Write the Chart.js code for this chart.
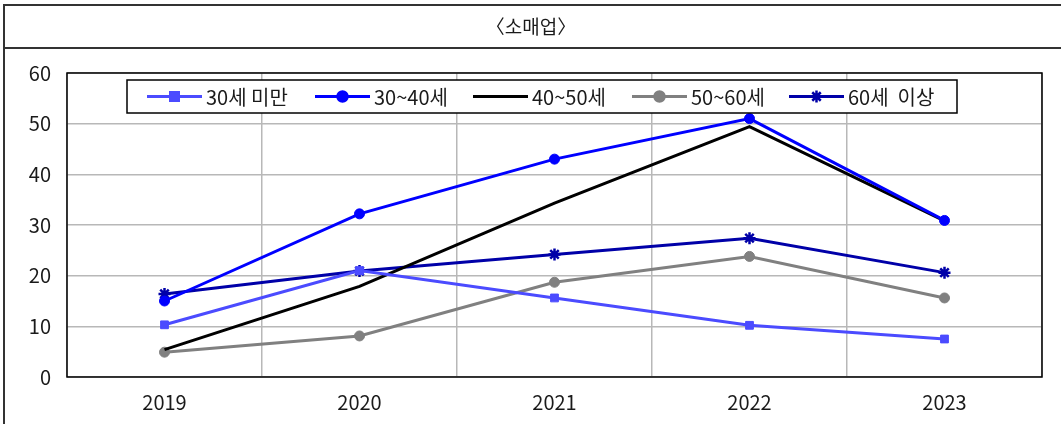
<!DOCTYPE html>
<html lang="ko">
<head>
<meta charset="utf-8">
<script src="https://cdn.jsdelivr.net/npm/chart.js@4/dist/chart.umd.min.js"></script>
<style>
    html, body { margin: 0; padding: 0; background: #ffffff; }
    #wrap { width: 1061px; height: 424px; position: relative; }
</style>
</head>
<body>
<div id="wrap"><canvas id="chart" width="1061" height="424"></canvas></div>
<script>
// Données
const titre = '〈소매업〉';
const annees = ['2019', '2020', '2021', '2022', '2023'];
const series = ['30세 미만', '30~40세', '40~50세', '50~60세', '60세  이상'];
const moins30 = [10.3, 21.0, 15.6, 10.2, 7.5];
const de30a40 = [15.0, 32.2, 43.0, 51.0, 30.9];
const de40a50 = [5.4, 17.9, 34.3, 49.4, 30.8];
const de50a60 = [4.9, 8.1, 18.7, 23.8, 15.6];
const plus60 = [16.4, 20.9, 24.2, 27.4, 20.6];
const yTicks = [0, 10, 20, 30, 40, 50, 60];

const FONT = '"Noto Sans CJK KR", "Noto Sans", sans-serif';

const styles = [
    { color: '#4b4bff', point: 'rect', radius: 5.5, data: moins30 },
    { color: '#0000ff', point: 'circle', radius: 5, data: de30a40 },
    { color: '#000000', point: false, radius: 0, data: de40a50 },
    { color: '#808080', point: 'circle', radius: 5, data: de50a60 },
    { color: '#0000a8', point: 'star', radius: 6, data: plus60 }
];

// Cadre, titre, bordure du graphique et légende maison
const decorPlugin = {
    id: 'decor',
    afterDraw(chart) {
        const ctx = chart.ctx;
        const a = chart.chartArea;
        ctx.save();

        // cadre extérieur
        ctx.strokeStyle = '#333333';
        ctx.lineWidth = 2;
        ctx.beginPath();
        ctx.moveTo(4, 424); ctx.lineTo(4, 5); ctx.lineTo(1061, 5);
        ctx.moveTo(4, 48); ctx.lineTo(1061, 48);
        ctx.stroke();

        // titre
        ctx.fillStyle = '#1a1a1a';
        ctx.font = '19px ' + FONT;
        ctx.textAlign = 'center';
        ctx.textBaseline = 'middle';
        ctx.fillText(titre, 531, 27);

        // bordure zone de tracé
        ctx.strokeStyle = '#000000';
        ctx.lineWidth = 1.5;
        ctx.strokeRect(a.left, a.top, a.right - a.left, a.bottom - a.top);

        // légende
        const bx = 127, by = 80, bw = 830, bh = 33;
        ctx.fillStyle = '#ffffff';
        ctx.fillRect(bx, by, bw, bh);
        ctx.strokeStyle = '#000000';
        ctx.lineWidth = 1.5;
        ctx.strokeRect(bx, by, bw, bh);

        ctx.font = '20px ' + FONT;
        ctx.textAlign = 'left';
        ctx.textBaseline = 'middle';
        const cy = by + bh / 2;
        const gaps = [147, 315, 473, 632, 789];
        series.forEach((name, i) => {
            const s = styles[i];
            const x = gaps[i];
            ctx.strokeStyle = s.color;
            ctx.fillStyle = s.color;
            ctx.lineWidth = 3;
            ctx.beginPath();
            ctx.moveTo(x, cy); ctx.lineTo(x + 55, cy);
            ctx.stroke();
            if (s.point) {
                ctx.lineWidth = 2.5;
                Chart.helpers.drawPoint(ctx, {
                    pointStyle: s.point, radius: s.radius, rotation: 0, borderWidth: 2.5
                }, x + 27.5, cy);
                if (s.point === 'rect') {
                    ctx.fillRect(x + 27.5 - s.radius, cy - s.radius, s.radius * 2, s.radius * 2);
                } else if (s.point === 'circle') {
                    ctx.beginPath();
                    ctx.arc(x + 27.5, cy, s.radius, 0, Math.PI * 2);
                    ctx.fill();
                }
            }
            ctx.fillStyle = '#1a1a1a';
            ctx.fillText(name, x + 59, cy + 1);
        });
        ctx.restore();
    }
};

const ctx = document.getElementById('chart').getContext('2d');

new Chart(ctx, {
    type: 'line',
    data: {
        labels: annees,
        datasets: series.map((name, i) => ({
            label: name,
            data: styles[i].data,
            borderColor: styles[i].color,
            backgroundColor: styles[i].color,
            borderWidth: 3,
            pointStyle: styles[i].point,
            pointRadius: styles[i].radius,
            pointBorderWidth: styles[i].point === 'star' ? 2.5 : 1,
            tension: 0,
            fill: false
        }))
    },
    options: {
        responsive: false,
        animation: false,
        layout: { padding: { top: 73, right: 19, left: 0, bottom: 0 } },
        plugins: {
            legend: { display: false },
            title: { display: false },
            tooltip: { enabled: false }
        },
        scales: {
            x: {
                offset: true,
                grid: { offset: true, color: '#b8b8b8', lineWidth: 1.5, drawTicks: false },
                border: { display: false },
                ticks: { color: '#1a1a1a', font: { size: 20, family: FONT }, padding: 13 },
                afterFit(scale) { scale.height = 47; }
            },
            y: {
                min: 0,
                max: 60,
                afterBuildTicks(scale) { scale.ticks = yTicks.map(v => ({ value: v })); },
                grid: { color: '#b8b8b8', lineWidth: 1.5, drawTicks: false },
                border: { display: false },
                ticks: { color: '#1a1a1a', font: { size: 20, family: FONT }, padding: 16 },
                afterFit(scale) { scale.width = 67; }
            }
        }
    },
    plugins: [decorPlugin]
});
</script>
</body>
</html>
